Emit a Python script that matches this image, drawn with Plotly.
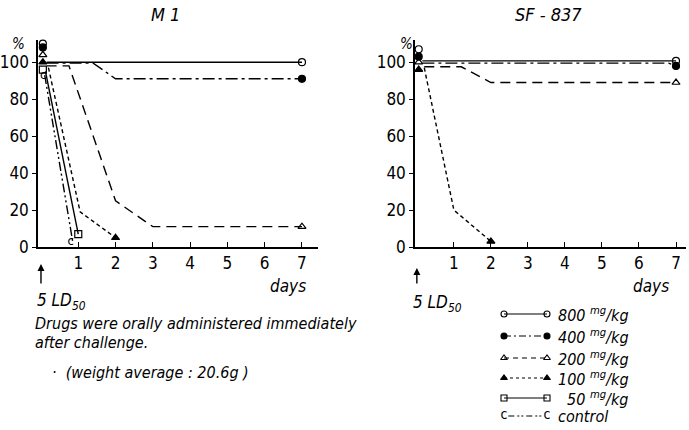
import plotly.graph_objects as go

W, H = 689, 430
FONT = "Liberation Sans Narrow, DejaVu Sans Condensed, Liberation Sans, sans-serif"

# ---------------- data ----------------
tick_days = [1, 2, 3, 4, 5, 6, 7]
tick_pct = [0, 20, 40, 60, 80, 100]

# M1 panel: start markers at day 0 are stacked in the original
m1_start = {"800": 110, "400": 108, "200": 104, "100": 100, "50": 96, "control": 92.5}
m1_800_days = [0.15, 7];            m1_800_vals = [100, 100]
m1_400_days = [0.15, 1.4, 2, 7];    m1_400_vals = [99.5, 99.5, 91, 91]
m1_200_days = [0.15, 0.75, 2, 3, 7]; m1_200_vals = [98, 98, 25, 11, 11]
m1_100_days = [0.2, 1.05, 2];       m1_100_vals = [97, 19, 5]
m1_50_days = [0.12, 1.0];           m1_50_vals = [95, 7]
m1_ctl_days = [0.1, 0.85];          m1_ctl_vals = [93, 3]

# SF-837 panel
sf_start = {"800": 107, "400": 103, "200": 100, "100": 96}
sf_800_days = [0.15, 7];            sf_800_vals = [100.7, 100.7]
sf_400_days = [0.15, 6.8, 7];       sf_400_vals = [99.5, 99.5, 98]
sf_200_days = [0.2, 1.2, 2, 7];     sf_200_vals = [97.5, 97.5, 89, 89]
sf_100_days = [0.2, 1.0, 2];        sf_100_vals = [97, 20, 3]

legend_labels = ["800 <sup>mg</sup>/kg", "400 <sup>mg</sup>/kg", "200 <sup>mg</sup>/kg",
                 "100 <sup>mg</sup>/kg", "50 <sup>mg</sup>/kg", "control"]

# ---------------- styles ----------------
STY = {
    "800": dict(dash="solid", ldash="solid", sym="circle-open"),
    "400": dict(dash="12px,4px,3px,4px", ldash="7px,3px,2px,3px", sym="circle"),
    "200": dict(dash="10px,6px", ldash="5px,4px", sym="triangle-up-open"),
    "100": dict(dash="4px,3px", ldash="3px,3px", sym="triangle-up"),
    "50": dict(dash="solid", ldash="solid", sym="square-open"),
    "control": dict(dash="9px,3px,2px,3px,2px,3px", ldash="6px,3px,2px,2px,2px,3px", sym=None),
}
LW = 1.4
MS = 7

fig = go.Figure()


def px(x):
    return x / W


def py(y):
    return 1 - y / H


def add_series(key, days, vals, start_val, xa, ya):
    st = STY[key]
    fig.add_trace(go.Scatter(x=days, y=vals, mode="lines", xaxis=xa, yaxis=ya,
                             line=dict(color="black", width=LW, dash=st["dash"]),
                             showlegend=False, hoverinfo="skip"))
    if st["sym"] is None:
        fig.add_trace(go.Scatter(x=[0.06, days[-1] - 0.05], y=[start_val, vals[-1]], mode="text",
                                 text=["c", "c"], xaxis=xa, yaxis=ya, cliponaxis=False,
                                 textfont=dict(family=FONT, size=13, color="black"),
                                 showlegend=False, hoverinfo="skip"))
        return
    fig.add_trace(go.Scatter(x=[0.05, days[-1]], y=[start_val, vals[-1]], mode="markers",
                             xaxis=xa, yaxis=ya, cliponaxis=False,
                             marker=dict(symbol=st["sym"], size=MS, color="black",
                                         line=dict(color="black", width=1.2)),
                             showlegend=False, hoverinfo="skip"))


add_series("800", m1_800_days, m1_800_vals, m1_start["800"], "x", "y")
add_series("400", m1_400_days, m1_400_vals, m1_start["400"], "x", "y")
add_series("200", m1_200_days, m1_200_vals, m1_start["200"], "x", "y")
add_series("100", m1_100_days, m1_100_vals, m1_start["100"], "x", "y")
add_series("50", m1_50_days, m1_50_vals, m1_start["50"], "x", "y")
add_series("control", m1_ctl_days, m1_ctl_vals, m1_start["control"], "x", "y")

add_series("800", sf_800_days, sf_800_vals, sf_start["800"], "x2", "y2")
add_series("400", sf_400_days, sf_400_vals, sf_start["400"], "x2", "y2")
add_series("200", sf_200_days, sf_200_vals, sf_start["200"], "x2", "y2")
add_series("100", sf_100_days, sf_100_vals, sf_start["100"], "x2", "y2")

# ---------------- legend built on a hidden axis ----------------
legend_keys = ["800", "400", "200", "100", "50", "control"]
legend_rows = [314, 336, 358, 378, 398, 416]   # pixel rows
for key, row in zip(legend_keys, legend_rows):
    st = STY[key]
    if st["sym"]:
        fig.add_trace(go.Scatter(x=[0.0, 1.0], y=[row, row], mode="lines+markers",
                                 xaxis="x3", yaxis="y3", cliponaxis=False,
                                 line=dict(color="black", width=1.2, dash=st["ldash"]),
                                 marker=dict(symbol=st["sym"], size=6, color="black",
                                             line=dict(color="black", width=1.1)),
                                 showlegend=False, hoverinfo="skip"))
    else:
        fig.add_trace(go.Scatter(x=[0.1, 0.9], y=[row, row], mode="lines",
                                 xaxis="x3", yaxis="y3", cliponaxis=False,
                                 line=dict(color="black", width=1.2, dash=st["ldash"]),
                                 showlegend=False, hoverinfo="skip"))
        fig.add_trace(go.Scatter(x=[0.0, 1.0], y=[row - 1, row - 1], mode="text", text=["c", "c"],
                                 xaxis="x3", yaxis="y3", cliponaxis=False,
                                 textfont=dict(family=FONT, size=14, color="black"),
                                 showlegend=False, hoverinfo="skip"))

annotations = []
for lab, row, key in zip(legend_labels, legend_rows, legend_keys):
    xoff = 9 if key == "50" else 0
    annotations.append(dict(x=px(556 + xoff), y=py(row), xref="paper", yref="paper",
                            xanchor="left", yanchor="middle", showarrow=False, text=f"<i>{lab}</i>",
                            font=dict(family=FONT, size=16, color="black")))


def txt(x, y, s, size=16, anchor="left"):
    annotations.append(dict(x=px(x), y=py(y), xref="paper", yref="paper", xanchor=anchor,
                            yanchor="middle", showarrow=False, text=s,
                            font=dict(family=FONT, size=size, color="black")))


txt(165, 15, "<i>M 1</i>", 18, "center")
txt(548, 15, "<i>SF - 837</i>", 18, "center")
txt(18, 44, "<i>%</i>", 15, "center")
txt(406, 44, "<i>%</i>", 15, "center")
txt(288, 286, "<i>days</i>", 17, "center")
txt(651, 286, "<i>days</i>", 17, "center")
txt(35, 301, "<i>5 LD<sub>50</sub></i>", 17)
txt(411, 303, "<i>5 LD<sub>50</sub></i>", 17)
txt(33, 323, "<i>Drugs were orally administered immediately</i>", 16)
txt(33, 342, "<i>after challenge.</i>", 16)
txt(50, 372, "<i>·  (weight average : 20.6g )</i>", 16)

# arrows at day 0
for xr, tip, tail in [("x", 264, 285), ("x2", 268, 285)]:
    annotations.append(dict(x=0, y=py(tip), xref=xr, yref="paper", ax=0, ay=tail - tip,
                            axref="pixel", ayref="pixel", text="", showarrow=True,
                            arrowhead=2, arrowsize=1, arrowwidth=1.4, arrowcolor="black"))

xcommon = dict(showline=True, linecolor="black", linewidth=1.5, showgrid=False, zeroline=False,
               ticks="inside", ticklen=5, tickcolor="black", tickwidth=1.2, automargin=False,
               tickvals=tick_days, ticktext=[str(d) for d in tick_days],
               tickfont=dict(family=FONT, size=17, color="black"))
ycommon = dict(showline=True, linecolor="black", linewidth=1.5, showgrid=False, zeroline=False,
               ticks="outside", ticklen=4, tickcolor="black", tickwidth=1.2, automargin=False,
               tickvals=tick_pct, ticktext=[str(v) for v in tick_pct],
               tickfont=dict(family=FONT, size=17, color="black"), range=[0, 112])

ydom = [py(247), py(40)]
fig.update_layout(
    width=W, height=H, margin=dict(l=0, r=0, t=0, b=0, autoexpand=False),
    paper_bgcolor="white", plot_bgcolor="white", showlegend=False,
    xaxis=dict(domain=[px(38), px(318)], range=[-0.08, 7.43], anchor="y", **xcommon),
    yaxis=dict(domain=ydom, anchor="x", **ycommon),
    xaxis2=dict(domain=[px(415), px(686)], range=[-0.05, 7.27], anchor="y2", **xcommon),
    yaxis2=dict(domain=ydom, anchor="x2", **ycommon),
    xaxis3=dict(domain=[px(504), px(547)], range=[0, 1], visible=False, anchor="y3",
                automargin=False),
    yaxis3=dict(domain=[py(425), py(305)], range=[425, 305], visible=False, anchor="x3",
                automargin=False),
    annotations=annotations,
)

fig.write_html("out.html", config={"displayModeBar": False},
               post_script="document.body.style.margin='0';document.body.style.overflow='hidden';")
